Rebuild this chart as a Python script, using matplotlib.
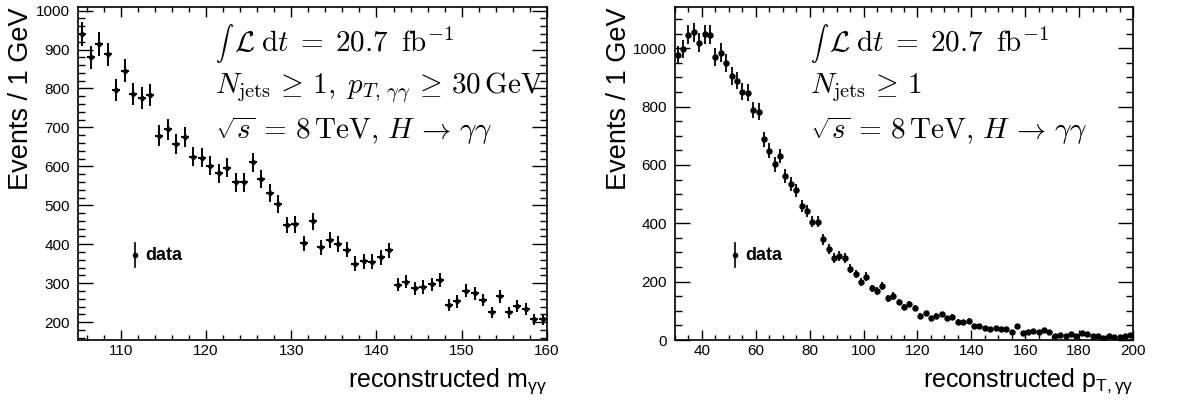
import numpy as np
import matplotlib
matplotlib.use('Agg')
import matplotlib.pyplot as plt
from matplotlib.ticker import MultipleLocator

plt.rcParams['font.family'] = ['Liberation Sans', 'DejaVu Sans']
plt.rcParams['mathtext.fontset'] = 'custom'
plt.rcParams['mathtext.rm'] = 'Liberation Sans'
plt.rcParams['mathtext.it'] = 'Liberation Sans:italic'
plt.rcParams['mathtext.bf'] = 'Liberation Sans:bold'

# diphoton invariant mass, 1 GeV bins from 105 to 160
mass_centers = np.arange(105.5, 160, 1.0)
mass_counts = [939, 880, 914, 888, 795, 846, 786, 776, 784, 679,
               695, 657, 676, 625, 622, 602, 582, 597, 559, 559,
               610, 568, 531, 503, 449, 451, 402, 459, 392, 411,
               400, 386, 350, 356, 355, 366, 384, 296, 304, 287,
               290, 297, 309, 244, 253, 280, 274, 257, 225, 266,
               225, 242, 233, 207, 207]

# diphoton transverse momentum, 2 GeV bins from 30 to 200
pt_centers = np.arange(31, 200, 2.0)
pt_counts = [977, 997, 1046, 1055, 1019, 1048, 1046, 971, 985, 949,
             905, 889, 851, 848, 789, 783, 688, 649, 602, 631,
             563, 534, 513, 459, 443, 406, 406, 345, 311, 282,
             288, 280, 245, 226, 200, 217, 177, 169, 185, 143,
             151, 130, 114, 123, 111, 82, 91, 74, 83, 88,
             74, 80, 63, 61, 66, 49, 48, 41, 39, 42,
             38, 39, 26, 49, 25, 29, 31, 27, 33, 29,
             15, 17, 15, 21, 15, 24, 21, 15, 15, 8,
             15, 11, 11, 13, 16]

lumi_text = r'$\mathcal{L}\;\mathrm{d}t\;=\;20.7\;\;\mathrm{fb}^{-1}$'
sel_left = r'$N_{\mathrm{jets}}\,\geq\,1,\;p_{T,\,\gamma\gamma}\,\geq\,30\,\mathrm{GeV}$'
sel_right = r'$N_{\mathrm{jets}}\,\geq\,1$'
energy_text = r'$\sqrt{s}\,=\,8\,\mathrm{TeV},\,H\,\rightarrow\,\gamma\gamma$'

fig = plt.figure(figsize=(11.93, 4.01), dpi=100)
ax1 = fig.add_axes([0.0654, 0.152, 0.3931, 0.8304])
ax2 = fig.add_axes([0.5658, 0.152, 0.3839, 0.8304])


def style_axes(ax, xmaj, xmin, ymaj, ymin):
    ax.xaxis.set_major_locator(MultipleLocator(xmaj))
    ax.xaxis.set_minor_locator(MultipleLocator(xmin))
    ax.yaxis.set_major_locator(MultipleLocator(ymaj))
    ax.yaxis.set_minor_locator(MultipleLocator(ymin))
    ax.tick_params(which='both', direction='in', top=True, right=True,
                   width=1.0, color='k')
    ax.tick_params(axis='x', which='major', length=7.2, pad=3, labelsize=11)
    ax.tick_params(axis='x', which='minor', length=3.6)
    ax.tick_params(axis='y', which='major', length=10.5, pad=6, labelsize=11)
    ax.tick_params(axis='y', which='minor', length=5.2)
    for s in ax.spines.values():
        s.set_linewidth(1.2)


def add_text(ax, x, dx, lines, ys):
    ax.text(x, ys[0], r'$\int$', transform=ax.transAxes, fontsize=13,
            math_fontfamily='cm', va='center', ha='left')
    for i, (t, y) in enumerate(zip(lines, ys)):
        ax.text(x + (dx if i == 0 else 0), y, t, transform=ax.transAxes,
                fontsize=21, math_fontfamily='cm', va='center', ha='left')


def add_legend(ax, x):
    ax.plot([x, x], [0.218, 0.292], transform=ax.transAxes, color='k', lw=1.2)
    ax.plot([x], [0.255], 'o', transform=ax.transAxes, color='k', ms=3)
    ax.text(x + 0.022, 0.255, 'data', transform=ax.transAxes, fontsize=13,
            fontweight='bold', va='center', ha='left')


# left panel
ax1.errorbar(mass_centers, mass_counts, yerr=np.sqrt(mass_counts), fmt='+',
             color='k', ms=6, mew=1.5, elinewidth=1.4, capsize=0)
ax1.plot(mass_centers, mass_counts, 'o', color='k', ms=2.6)
ax1.set_xlim(105, 160)
ax1.set_ylim(154, 1009)
style_axes(ax1, 10, 2, 100, 20)
ax1.set_xlabel(r'reconstructed m$_{\mathrm{γγ}}$', fontsize=18, loc='right')
ax1.xaxis.set_label_coords(1.0, -0.08)
ax1.set_ylabel('Events / 1 GeV', fontsize=19.5, loc='top')
ax1.yaxis.set_label_coords(-0.094, 1.0)
add_text(ax1, 0.292, 0.04, [lumi_text, sel_left, energy_text], [0.892, 0.757, 0.63])
add_legend(ax1, 0.1215)

# right panel
ax2.errorbar(pt_centers, pt_counts, yerr=np.sqrt(pt_counts), fmt='o',
             color='k', ms=3.6, elinewidth=1.3, capsize=0)
ax2.set_xlim(30, 200)
ax2.set_ylim(0, 1141)
style_axes(ax2, 20, 5, 200, 50)
ax2.set_xlabel(r'reconstructed p$_{\mathrm{T,γγ}}$', fontsize=18, loc='right')
ax2.xaxis.set_label_coords(1.0, -0.08)
ax2.set_ylabel('Events / 1 GeV', fontsize=19.5, loc='top')
ax2.yaxis.set_label_coords(-0.094, 1.0)
add_text(ax2, 0.295, 0.041, [lumi_text, sel_right, energy_text], [0.892, 0.757, 0.63])
add_legend(ax2, 0.131)

fig.savefig('out.png', dpi=100)
